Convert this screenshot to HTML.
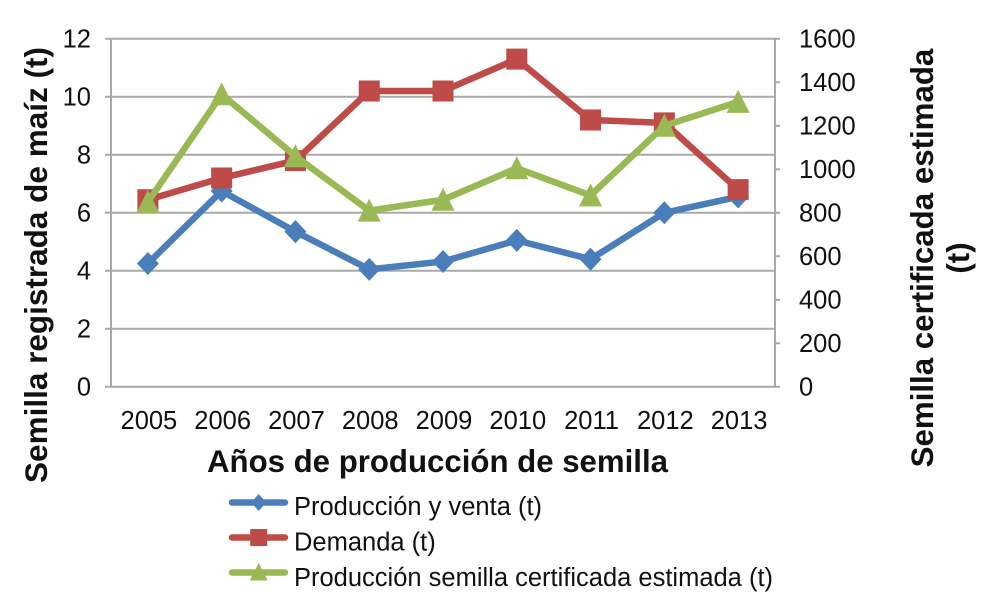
<!DOCTYPE html>
<html lang="es">
<head>
<meta charset="utf-8">
<title>Semilla de maíz</title>
<style>
html,body{margin:0;padding:0;background:#fff;}
svg{display:block;font-family:"Liberation Sans",Arial,sans-serif;}
</style>
</head>
<body>
<svg id="chart" width="990" height="604" viewBox="0 0 990 604" xmlns="http://www.w3.org/2000/svg"></svg>
<script>
const categories = ['2005','2006','2007','2008','2009','2010','2011','2012','2013'];
const produccion = [4.25,6.75,5.35,4.05,4.32,5.05,4.4,6.0,6.55];
const demanda = [6.45,7.2,7.8,10.2,10.2,11.3,9.2,9.1,6.8];
const certificada = [850,1345,1060,810,860,1005,880,1200,1310];
const leftTicks = [0,2,4,6,8,10,12];
const rightTicks = [0,200,400,600,800,1000,1200,1400,1600];
const leftMax = 12;
const rightMax = 1600;

const svg = document.getElementById('chart');
const NS = 'http://www.w3.org/2000/svg';
const plot = {left:111, right:775, top:38.8, bottom:386.8};
const xScale = i => plot.left + (plot.right - plot.left) * (i + 0.5) / categories.length;
const yLeft = v => plot.bottom - (plot.bottom - plot.top) * v / leftMax;
const yRight = v => plot.bottom - (plot.bottom - plot.top) * v / rightMax;

function make(tag, attrs, text){
  const el = document.createElementNS(NS, tag);
  for (const k in attrs) el.setAttribute(k, attrs[k]);
  if (text !== undefined) el.textContent = text;
  svg.appendChild(el);
  return el;
}

leftTicks.forEach(t => {
  const g = make('line',{x1:105,x2:plot.right,y1:yLeft(t),y2:yLeft(t),stroke:'#a9a9a9','stroke-width':2});
  
  
  const lab = make('text',{x:91,y:yLeft(t)+8.5,'text-anchor':'end','font-size':25.5,fill:'#111'},String(t));
  
  
});
rightTicks.forEach(t => {
  const tick = make('line',{x1:plot.right,x2:780,y1:yRight(t),y2:yRight(t),stroke:'#a9a9a9','stroke-width':2});
  
  
  const lab = make('text',{x:799,y:yRight(t)+8.5,'font-size':25.5,fill:'#111'},String(t));
  
  
});
const axL = make('line',{x1:plot.left,x2:plot.left,y1:plot.top,y2:plot.bottom,stroke:'#a9a9a9','stroke-width':2});


const axR = make('line',{x1:plot.right,x2:plot.right,y1:plot.top,y2:plot.bottom,stroke:'#a9a9a9','stroke-width':2});



categories.forEach((c,i) => {
  const lab = make('text',{x:xScale(i)+1,y:429,'text-anchor':'middle','font-size':25.5,fill:'#111'},c);
  
  
});

function marker(type,x,y,color,name,big){
  let el;
  if (type === 'diamond') {
    const w = big ? 11 : 7.5, h = big ? 11.5 : 8.5;
    el = make('polygon',{points:[[x,y-h],[x+w,y],[x,y+h],[x-w,y]].join(' '),fill:color});
  } else if (type === 'square') {
    const s = big ? 10.5 : 8.5;
    el = make('rect',{x:x-s,y:y-s,width:2*s,height:2*s,fill:color});
  } else {
    const w = big ? 11.5 : 9, up = big ? 12 : 9.5, dn = big ? 11 : 8;
    el = make('polygon',{points:[[x,y-up],[x+w,y+dn],[x-w,y+dn]].join(' '),fill:color});
  }
  
  
}

function drawSeries(values, yFn, color, type, name){
  const pts = values.map((v,i) => xScale(i) + ',' + yFn(v)).join(' ');
  const line = make('polyline',{points:pts,fill:'none',stroke:color,'stroke-width':6.5,'stroke-linejoin':'round'});
  
  
  values.forEach((v,i) => marker(type, xScale(i), yFn(v), color, name + '-point-' + categories[i], true));
}

drawSeries(produccion, yLeft, '#4a7ebb', 'diamond', 'produccion');
drawSeries(demanda, yLeft, '#be4b48', 'square', 'demanda');
drawSeries(certificada, yRight, '#98b954', 'triangle', 'certificada');

const t1 = make('text',{x:0,y:0,transform:'translate(47,265) rotate(-90)','text-anchor':'middle','font-size':31.5,'font-weight':'bold',fill:'#111'},'Semilla registrada de maíz (t)');


const t2a = make('text',{x:0,y:0,transform:'translate(933,258) rotate(-90)','text-anchor':'middle','font-size':31.25,'font-weight':'bold',fill:'#111'},'Semilla certificada estimada');


const t2b = make('text',{x:0,y:0,transform:'translate(969,258) rotate(-90)','text-anchor':'middle','font-size':31.25,'font-weight':'bold',fill:'#111'},'(t)');


const t3 = make('text',{x:437.5,y:472,'text-anchor':'middle','font-size':31.2,'font-weight':'bold',fill:'#111'},'Años de producción de semilla');



const legendLabels = ['Producción y venta (t)','Demanda (t)','Producción semilla certificada estimada (t)'];
const legendColors = ['#4a7ebb','#be4b48','#98b954'];
const legendTypes = ['diamond','square','triangle'];
const legendNames = ['produccion','demanda','certificada'];
legendLabels.forEach((txt,i) => {
  const y = 502.5 + i * 35;
  const l = make('line',{x1:232,x2:285,y1:y,y2:y,stroke:legendColors[i],'stroke-width':6.5,'stroke-linecap':'round'});
  
  
  marker(legendTypes[i],258.7,y,legendColors[i],'legend-marker-' + legendNames[i],false);
  const lab = make('text',{x:294,y:y+12.5+i*0.5,'font-size':25.5,fill:'#111'},txt);
  
  
});
</script>
</body>
</html>
